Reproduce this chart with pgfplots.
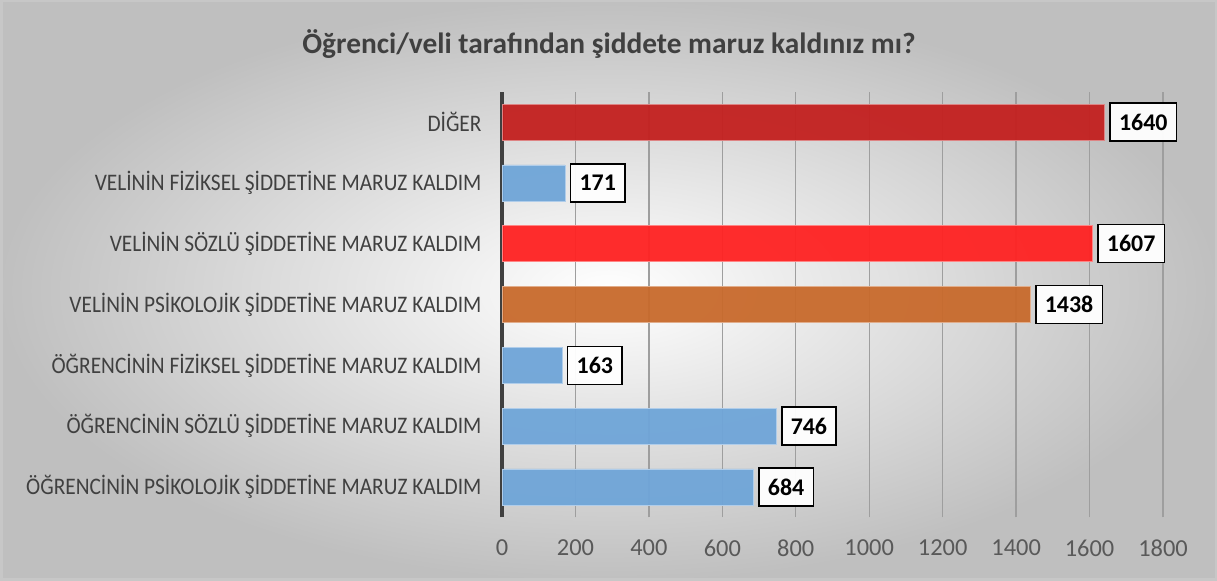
\documentclass[border=0pt]{standalone}
\usepackage{pgfplots}
\pgfplotsset{compat=1.18}
\usepackage{fontspec}
\setmainfont{Carlito}
\newfontfamily\condfont[FakeStretch=0.9]{Carlito}
\definecolor{txt}{HTML}{404040}
\definecolor{tick}{HTML}{595959}
\definecolor{cdark}{HTML}{C3201F}
\definecolor{cred}{HTML}{FF2222}
\definecolor{corange}{HTML}{C86A2C}
\definecolor{cblue}{HTML}{6FA5D8}
\begin{document}
\begin{tikzpicture}
\shade[inner color=white, outer color=black!25] (0bp,0bp) rectangle (1217bp,581bp);
\draw[black!22, line width=2.5bp] (1.25bp,1.25bp) rectangle (1215.75bp,579.75bp);
\node[font=\bfseries\fontsize{29.5}{32}\selectfont, text=txt] at (609bp,537bp) {Öğrenci/veli tarafından şiddete maruz kaldınız mı?};
\begin{axis}[
  at={(502bp,63.6bp)}, anchor=south west,
  scale only axis, width=661bp, height=425.8bp,
  xmin=0, xmax=1800, ymin=-0.5, ymax=6.5,
  xtick={0,200,...,1800},
  ytick={0,1,2,3,4,5,6},
  yticklabels={ÖĞRENCİNİN PSİKOLOJİK ŞİDDETİNE MARUZ KALDIM,
               ÖĞRENCİNİN SÖZLÜ ŞİDDETİNE MARUZ KALDIM,
               ÖĞRENCİNİN FİZİKSEL ŞİDDETİNE MARUZ KALDIM,
               VELİNİN PSİKOLOJİK ŞİDDETİNE MARUZ KALDIM,
               VELİNİN SÖZLÜ ŞİDDETİNE MARUZ KALDIM,
               VELİNİN FİZİKSEL ŞİDDETİNE MARUZ KALDIM,
               DİĞER},
  major tick length=0pt,
  /pgf/number format/assume math mode=true,
  /pgf/number format/1000 sep={},
  xticklabel style={font=\fontsize{24.5}{28}\selectfont, text=tick, yshift=-19bp},
  yticklabel style={font=\condfont\fontsize{23.8}{28}\selectfont, text=txt, xshift=-17bp},
  axis lines*=left,
  x axis line style={draw=none},
  y axis line style={line width=3.5bp, color=txt},
  xmajorgrids, grid style={black!38, line width=1.3bp},
  xbar, bar shift=0pt, bar width=36bp,
  nodes near coords,
  every node near coord/.append style={draw=black, fill=white, line width=1.6bp,
     font=\bfseries\fontsize{24}{26}\selectfont, text=black, inner xsep=9bp,
     minimum height=38bp, anchor=west, xshift=5bp},
]
\addplot[fill=cblue, draw=cblue!55!white, fill opacity=0.95, text opacity=1] coordinates {(684,0) (746,1) (163,2) (171,5)};
\addplot[fill=corange, draw=corange!55!white, fill opacity=0.95, text opacity=1] coordinates {(1438,3)};
\addplot[fill=cred, draw=cred!55!white, fill opacity=0.95, text opacity=1] coordinates {(1607,4)};
\addplot[fill=cdark, draw=cdark!55!white, fill opacity=0.95, text opacity=1] coordinates {(1640,6)};
\end{axis}
\end{tikzpicture}
\end{document}
